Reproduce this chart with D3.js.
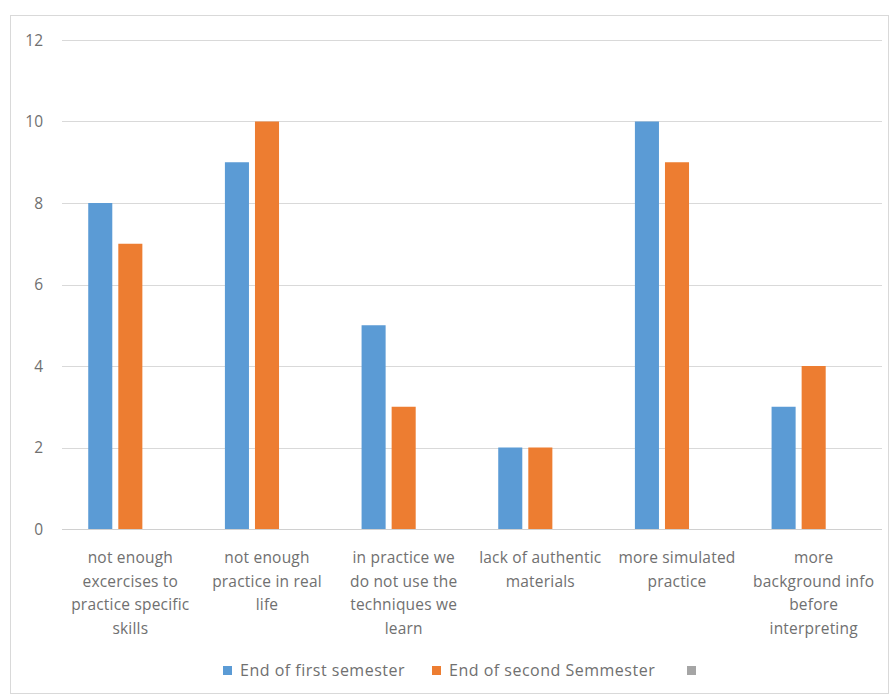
<!DOCTYPE html>
<html>
<head>
<meta charset="utf-8">
<script src="https://cdn.jsdelivr.net/npm/d3@7"></script>
<style>
  body { margin: 0; background: #fff; }
  svg { display: block; font-family: "Open Sans", "Liberation Sans", sans-serif; }
  .tick-label { fill: #707070; font-size: 15.5px; }
  .cat-label { fill: #707070; font-size: 15.5px; letter-spacing: 0.2px; }
  .legend-label { fill: #707070; font-size: 16px; letter-spacing: 0.5px; }
</style>
</head>
<body>
<svg id="chart" width="893" height="698"></svg>
<script>
// data
const categories = [
    ["not enough", "excercises to", "practice specific", "skills"],
    ["not enough", "practice in real", "life"],
    ["in practice we", "do not use the", "techniques we", "learn"],
    ["lack of authentic", "materials"],
    ["more simulated", "practice"],
    ["more", "background info", "before", "interpreting"]
];
const firstSemester = [8, 9, 5, 2, 10, 3];
const secondSemester = [7, 10, 3, 2, 9, 4];
const seriesNames = ["End of first semester", "End of second Semmester", ""];
const seriesColors = ["#5b9bd5", "#ed7d31", "#a5a5a5"];
const yTicks = [0, 2, 4, 6, 8, 10, 12];

const svg = d3.select("#chart");

// outer chart frame
svg.append("rect")
    .attr("x", 10.5).attr("y", 15.5)
    .attr("width", 878).attr("height", 678)
    .attr("fill", "none")
    .attr("stroke", "#d9d9d9");

const plot = { left: 62, right: 882, top: 40, bottom: 529 };

const y = d3.scaleLinear()
    .domain([0, 12])
    .range([plot.bottom, plot.top]);

const x0 = d3.scaleBand()
    .domain(d3.range(categories.length))
    .range([plot.left, plot.right])
    .paddingInner(0.34)
    .paddingOuter(0.17);

// third series is empty but still takes a slot
const x1 = d3.scaleBand()
    .domain(d3.range(3))
    .range([0, x0.bandwidth()])
    .paddingInner(0.2)
    .paddingOuter(0.1);

// gridlines
svg.append("g")
    .selectAll("line")
    .data(yTicks.filter(d => d > 0))
    .enter().append("line")
    .attr("x1", plot.left).attr("x2", plot.right)
    .attr("y1", d => Math.round(y(d)) + 0.5)
    .attr("y2", d => Math.round(y(d)) + 0.5)
    .attr("stroke", "#d9d9d9");

// y tick labels
svg.append("g")
    .selectAll("text")
    .data(yTicks)
    .enter().append("text")
    .attr("class", "tick-label")
    .attr("x", 43)
    .attr("y", d => y(d) + 5.5)
    .attr("text-anchor", "end")
    .text(d => d);

// bars
const series = [firstSemester, secondSemester];
series.forEach((values, s) => {
    svg.append("g")
        .selectAll("rect")
        .data(values)
        .enter().append("rect")
        .attr("x", (d, i) => x0(i) + x1(s))
        .attr("y", d => y(d))
        .attr("width", x1.bandwidth())
        .attr("height", d => y(0) - y(d))
        .attr("fill", seriesColors[s]);
});

// category axis line
svg.append("line")
    .attr("x1", plot.left).attr("x2", plot.right)
    .attr("y1", Math.round(y(0)) + 0.5).attr("y2", Math.round(y(0)) + 0.5)
    .attr("stroke", "#d0d0d0");

// category labels
const catGroup = svg.append("g");
categories.forEach((lines, i) => {
    const cx = x0(i) + x0.bandwidth() / 2;
    const t = catGroup.append("text")
        .attr("class", "cat-label")
        .attr("text-anchor", "middle");
    lines.forEach((line, j) => {
        t.append("tspan")
            .attr("x", cx)
            .attr("y", 563 + j * 23.5)
            .text(line);
    });
});

// legend
const legendX = [223, 432, 687];
const legend = svg.append("g");
seriesNames.forEach((name, i) => {
    legend.append("rect")
        .attr("x", legendX[i]).attr("y", 666)
        .attr("width", 9).attr("height", 9)
        .attr("fill", seriesColors[i]);
    legend.append("text")
        .attr("class", "legend-label")
        .attr("x", legendX[i] + 17)
        .attr("y", 676)
        .text(name);
});
</script>
</body>
</html>
